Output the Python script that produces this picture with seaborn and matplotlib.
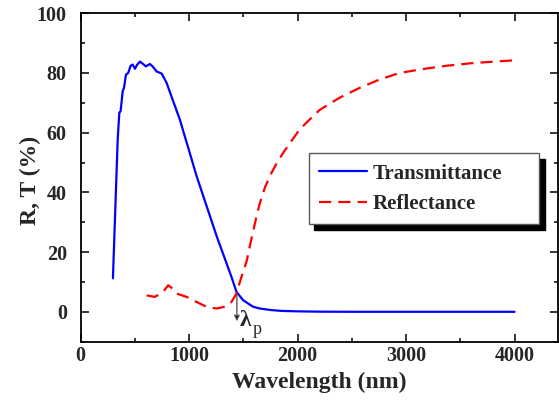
import matplotlib
matplotlib.use("Agg")
import matplotlib.pyplot as plt
import seaborn as sns
import pandas as pd
from matplotlib.ticker import MultipleLocator

# Transmittance data (wavelength nm, %)
trans_wl = [297, 341, 356, 368, 387, 399, 417, 438, 460, 479, 500, 521, 546, 571,
            601, 638, 663, 700, 746, 792, 838, 914, 970, 991, 1068, 1160, 1252,
            1329, 1390, 1436, 1497, 1589, 1651, 1750, 1850, 2000, 2200, 2500,
            3000, 3500, 4000]
trans_val = [11.2, 57.8, 66.7, 67.2, 73.9, 75.0, 79.4, 80.0, 82.4, 82.8, 81.4,
             82.8, 83.8, 83.1, 82.2, 83.0, 82.2, 80.5, 79.8, 76.7, 72.0, 64.4,
             57.5, 55.0, 45.5, 35.5, 25.5, 17.8, 11.7, 6.7, 3.9, 1.7, 1.1, 0.6,
             0.3, 0.15, 0.05, 0.0, 0.0, 0.0, 0.0]

# Reflectance data (wavelength nm, %)
refl_wl = [608, 684, 761, 807, 838, 884, 976, 1068, 1160, 1252, 1329, 1390,
           1436, 1482, 1528, 1574, 1620, 1651, 1700, 1760, 1820, 1881, 2019,
           2111, 2203, 2387, 2572, 2756, 2940, 3155, 3370, 3615, 3983]
refl_val = [5.5, 5.0, 6.7, 8.9, 8.0, 6.1, 5.0, 3.3, 1.7, 1.1, 1.7, 3.3, 6.1,
            11.7, 16.7, 24.4, 31.8, 36.3, 41.8, 46.6, 50.6, 54.0, 61.1, 64.4,
            67.6, 71.7, 75.0, 77.8, 80.0, 81.3, 82.4, 83.3, 84.2]

series_labels = ["Transmittance", "Reflectance"]
x_label = "Wavelength (nm)"
y_label = "R, T (%)"
plasma_label = "λ"
plasma_sub = "p"
plasma_wl = 1440
plasma_val = 5.5

sns.set_theme(style="ticks")
plt.rcParams["font.family"] = ["Liberation Serif", "DejaVu Serif"]
plt.rcParams["font.weight"] = "bold"
plt.rcParams["axes.labelweight"] = "bold"

fig = plt.figure(figsize=(5.59, 4.01), dpi=100)
ax = fig.add_axes([0.1444, 0.148, 0.998 - 0.1444, 0.967 - 0.148])

df_t = pd.DataFrame({"wl": trans_wl, "val": trans_val})
df_r = pd.DataFrame({"wl": refl_wl, "val": refl_val})

sns.lineplot(data=df_t, x="wl", y="val", ax=ax, color="#0000ff", lw=1.6,
             label=series_labels[0], sort=False)
sns.lineplot(data=df_r, x="wl", y="val", ax=ax, color="#ff0000", lw=1.6,
             linestyle=(0, (5.5, 3.2)), label=series_labels[1], sort=False)

ax.set_xlim(0, 4400)
ax.set_ylim(-10, 100)
ax.xaxis.set_major_locator(MultipleLocator(1000))
ax.xaxis.set_minor_locator(MultipleLocator(500))
ax.set_yticks([0, 20, 40, 60, 80, 100])
ax.yaxis.set_minor_locator(MultipleLocator(10))

ax.tick_params(which="both", direction="in", top=True, right=True,
               width=1.1, color="black", labelsize=14.5)
ax.tick_params(which="major", length=6)
ax.tick_params(which="minor", length=3)
ax.tick_params(axis="x", which="both", pad=3)
ax.tick_params(axis="y", which="both", pad=10)
for lab in ax.get_xticklabels() + ax.get_yticklabels():
    lab.set_fontweight("bold")
for sp in ax.spines.values():
    sp.set_linewidth(1.3)
    sp.set_color("black")

ax.set_xlabel(x_label, fontsize=17, fontweight="bold", labelpad=4)
ax.set_ylabel(y_label, fontsize=17, fontweight="bold")
ax.yaxis.set_label_coords(-0.084, 0.49)

# plasma wavelength annotation
ax.annotate("", xy=(plasma_wl, -3.2), xytext=(plasma_wl, plasma_val),
            arrowprops=dict(arrowstyle="-|>", color="0.35", lw=1.0,
                            mutation_scale=8, shrinkA=0, shrinkB=0,
                            fc="black", ec="0.35"))
ax.text(plasma_wl + 30, -3.0, plasma_label, fontsize=17, fontweight="bold",
        ha="left", va="center")
ax.text(plasma_wl + 150, -6.0, plasma_sub, fontsize=13, fontweight="normal",
        ha="left", va="center")

leg = ax.legend(loc="upper left", bbox_to_anchor=(0.478, 0.35, 0.4825, 0.224),
                mode="expand",
                borderaxespad=0, fancybox=False, frameon=True,
                prop={"family": "Liberation Serif", "weight": "bold", "size": 15},
                handlelength=2.3, handletextpad=0.25, borderpad=0.5,
                labelspacing=0.5,
                shadow={"ox": 4, "oy": -4, "facecolor": "black",
                        "edgecolor": "black", "alpha": 1})
leg.get_frame().set_edgecolor("0.35")
leg.get_frame().set_linewidth(1.0)
leg.get_frame().set_facecolor("white")
leg.get_frame().set_alpha(1)

fig.savefig("out.png", dpi=100)
